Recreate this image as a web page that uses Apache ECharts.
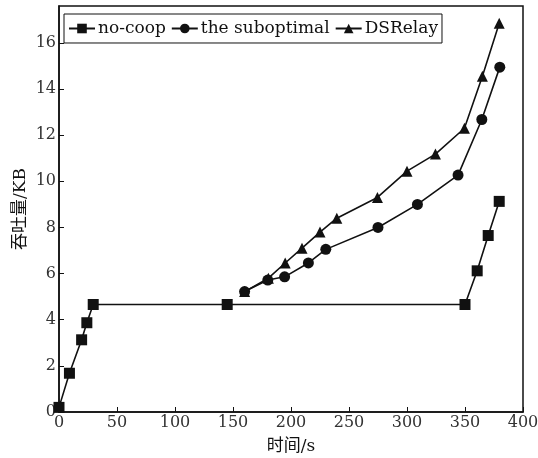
<!DOCTYPE html>
<html><head><meta charset="utf-8">
<script src="https://cdn.jsdelivr.net/npm/echarts@6/dist/echarts.min.js"></script>
<style>html,body{margin:0;padding:0;background:#fff}#c{width:538px;height:458px}</style>
</head><body><div id="c"></div>
<script>
const seriesNames = ['no-coop', 'the suboptimal', 'DSRelay'];
const noCoop = [[0,0.2],[9,1.68],[19.5,3.13],[24,3.87],[29.5,4.66],[145,4.66],[350,4.66],[360.5,6.12],[370,7.65],[379.5,9.13]];
const subopt = [[160,5.22],[180,5.72],[194.5,5.86],[215,6.46],[230,7.05],[275,8.0],[309,9.0],[344,10.27],[364.5,12.68],[380,14.95]];
const dsrelay = [[160,5.22],[180.5,5.8],[195,6.46],[209.5,7.1],[225,7.8],[239.5,8.4],[274.5,9.3],[300,10.44],[324.5,11.18],[349.5,12.3],[365,14.55],[379.5,16.85]];
const xTicks = {min:0, max:400, interval:50};
const yTicks = {min:0, max:17.6, interval:2};

const font = "'DejaVu Serif','Noto Sans CJK SC',serif";
const chart = echarts.init(document.getElementById('c'), null, {renderer:'canvas'});
const mk = (name, data, symbol, size) => ({
  name, type:'line', data, symbol, symbolSize:size,
  lineStyle:{color:'#111', width:1.6},
  itemStyle:{color:'#111'},
  animation:false
});
chart.setOption({
  animation:false,
  backgroundColor:'#fff',
  grid:{left:59, right:15, top:6, bottom:46, containLabel:false, outerBoundsMode:'none',
        show:true, borderColor:'#111', borderWidth:1.5, backgroundColor:'transparent'},
  legend:{
    left:64, top:14, orient:'horizontal',
    data:seriesNames,
    borderColor:'#111', borderWidth:1, padding:[6,4,6,4],
    itemGap:5, itemWidth:26, itemHeight:12,
    textStyle:{fontFamily:font, fontSize:17, color:'#111', padding:[0,0,0,-2]}
  },
  xAxis:{
    type:'value', min:xTicks.min, max:xTicks.max, interval:xTicks.interval,
    name:'时间/s', nameLocation:'middle', nameGap:26, nameMoveOverlap:false,
    nameTextStyle:{fontFamily:font, fontSize:17, color:'#111'},
    axisLine:{show:true, lineStyle:{color:'#111', width:1.5}},
    axisTick:{show:true, inside:true, length:5, lineStyle:{color:'#111'}},
    axisLabel:{fontFamily:font, fontSize:16, color:'#333', margin:3},
    splitLine:{show:false}
  },
  yAxis:{
    type:'value', min:yTicks.min, max:yTicks.max, interval:yTicks.interval,
    name:'吞吐量/KB', nameLocation:'middle', nameGap:30, nameMoveOverlap:false,
    nameTextStyle:{fontFamily:font, fontSize:17, color:'#111'},
    axisLine:{show:true, lineStyle:{color:'#111', width:1.5}},
    axisTick:{show:true, inside:true, length:5, lineStyle:{color:'#111'}},
    axisLabel:{fontFamily:font, fontSize:16, color:'#333', margin:3, showMaxLabel:false},
    splitLine:{show:false}
  },
  series:[
    mk(seriesNames[0], noCoop, 'rect', 11),
    mk(seriesNames[1], subopt, 'circle', 11),
    mk(seriesNames[2], dsrelay, 'triangle', 11)
  ]
});
</script></body></html>
